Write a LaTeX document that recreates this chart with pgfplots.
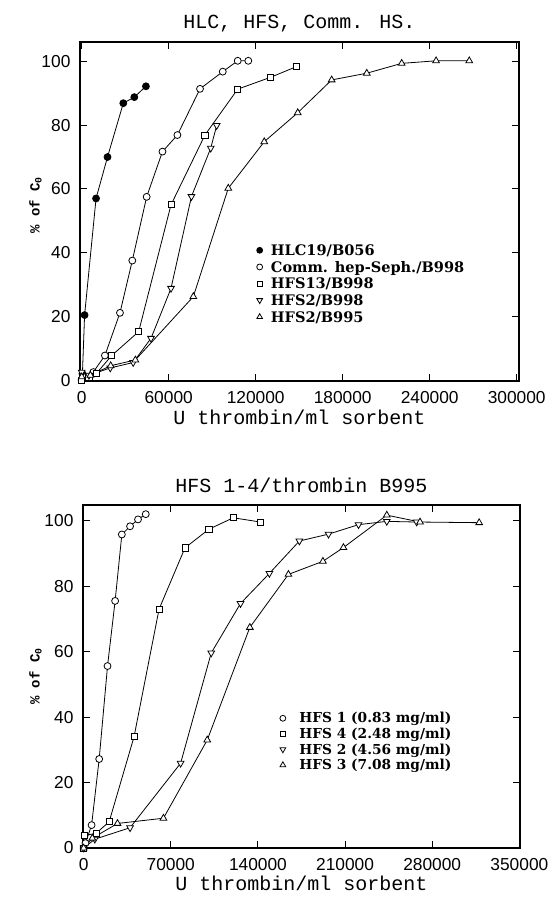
\documentclass[border=0pt]{standalone}
\usepackage{pgfplots}
\pgfplotsset{compat=1.18}
\usepackage{fontspec}
\setmainfont{Liberation Serif}
\newfontfamily\monof{Liberation Mono}
\newfontfamily\sansf{Liberation Sans}
\newfontfamily\legf{DejaVu Serif}
\begin{document}
\begin{tikzpicture}
\useasboundingbox (0,0) rectangle (414.75pt,-675.75pt);
\pgfplotsset{
  common/.style={
    scale only axis,
    axis line style={line width=0.8pt},
    every tick/.style={black, line width=0.7pt},
    major tick length=5pt,
    ytick={0,20,40,60,80,100},
    scaled ticks=false,
    /pgf/number format/fixed,
    /pgf/number format/precision=0,
    /pgf/number format/set thousands separator={},
    /pgf/number format/assume math mode=true,
    tick label style={font=\sansf\fontsize{13pt}{15pt}\selectfont},
    xticklabel style={anchor=base, inner sep=0pt, yshift=-16.5pt},
    yticklabel style={anchor=east, inner sep=0pt, xshift=-7pt},
    title style={font=\monof\fontsize{15pt}{17pt}\selectfont, anchor=base, inner sep=0pt, at={(axis description cs:0.5,1)}},
    xlabel style={font=\monof\fontsize{15pt}{17pt}\selectfont, anchor=base, inner sep=0pt, at={(axis description cs:0.5,0)}},
    ylabel={\% of C\textsubscript{0}},
    legend cell align=left,
    legend style={draw=none, fill=none, inner sep=0pt, anchor=north west},
    legend image code/.code={\draw[##1, only marks, every mark/.append style={scale=0.85}] plot coordinates {(0cm,0cm)};},
  },
}
% ---------------- top panel ----------------
\begin{axis}[common,
  at={(60pt,-285.75pt)}, anchor=south west,
  width=329.25pt, height=254.25pt,
  xmin=-1170, xmax=301600, ymin=-0.3, ymax=106.1,
  xtick={0,60000,120000,180000,240000,300000},
  title={HLC, HFS, Comm. HS.},
  title style={yshift=4.5pt},
  xlabel={U thrombin/ml sorbent},
  xlabel style={yshift=-32.5pt},
  ylabel style={font=\monof\bfseries\fontsize{10.5pt}{12pt}\selectfont, at={(axis description cs:-0.1014,0.519)}, anchor=center},
  legend style={at={(axis description cs:0.402,0.410)}, column sep=5.75pt, row sep=0.5pt,
    font=\legf\bfseries\fontsize{10.9pt}{13pt}\selectfont,
    nodes={inner xsep=0.5pt, inner ysep=0.5pt, text height=9.5pt, text depth=1.5pt}},
]
\addplot[black, line width=0.6pt, mark=*, mark size=2.6pt, mark options={solid, fill=black}] coordinates {
(0,0) (500,2) (2000,20.4) (9900,57) (17800,70) (28700,86.9) (36300,88.8) (44300,92.2)};
\addlegendentry{HLC19/B056}
\addplot[black, line width=0.6pt, mark=*, mark size=2.6pt, mark options={solid, fill=white}] coordinates {
(0,0) (3000,1) (8000,2.5) (16000,7.7) (26400,21.1) (34900,37.5) (44800,57.5) (55700,71.7) (66000,76.9) (81600,91.4) (97300,96.8) (107600,100.2) (114900,100.2)};
\addlegendentry{Comm. hep-Seph./B998}
\addplot[black, line width=0.6pt, mark=square*, mark size=2.3pt, mark options={solid, fill=white}] coordinates {
(0,0) (5000,1) (10000,2) (20700,7.7) (39300,15.2) (61600,55) (85000,76.9) (107600,91.3) (130100,95) (148300,98.4)};
\addlegendentry{HFS13/B998}
\addplot[black, line width=0.6pt, mark=triangle*, mark size=2.9pt, mark options={solid, fill=white, rotate=180}] coordinates {
(0,2.5) (5000,1.5) (19700,3.8) (35500,5.5) (47800,13.1) (61600,28.8) (75700,57.6) (89000,72.8) (93100,79.9)};
\addlegendentry{HFS2/B998}
\addplot[black, line width=0.6pt, mark=triangle*, mark size=2.9pt, mark options={solid, fill=white}] coordinates {
(0,1) (6000,1.5) (20000,4.5) (37000,6.3) (77000,26.2) (101100,60.2) (125900,74.8) (149000,83.9) (172400,94.2) (196600,96.3) (220700,99.4) (244400,100.2) (267300,100.2)};
\addlegendentry{HFS2/B995}
\end{axis}
% ---------------- bottom panel ----------------
\begin{axis}[common,
  at={(62.25pt,-636pt)}, anchor=south west,
  width=327.75pt, height=257.25pt,
  xmin=-500, xmax=350500, ymin=0, ymax=104.8,
  xtick={0,70000,140000,210000,280000,350000},
  title={HFS 1-4/thrombin B995},
  title style={yshift=3.75pt},
  xlabel={U thrombin/ml sorbent},
  xlabel style={yshift=-32pt},
  ylabel style={font=\monof\bfseries\fontsize{10.5pt}{12pt}\selectfont, at={(axis description cs:-0.1087,0.5)}, anchor=center},
  legend style={at={(axis description cs:0.45,0.4004)}, column sep=9.75pt, row sep=0.7pt,
    font=\legf\bfseries\fontsize{10.3pt}{12pt}\selectfont,
    nodes={inner xsep=0.5pt, inner ysep=0.5pt, text height=8.5pt, text depth=1.5pt}},
]
\addplot[black, line width=0.6pt, mark=*, mark size=2.6pt, mark options={solid, fill=white}] coordinates {
(0,0) (1500,1.5) (6400,7) (12500,27.2) (19200,55.6) (25300,75.5) (30700,95.8) (37300,98.3) (43700,100.4) (49900,102)};
\addlegendentry{HFS 1 (0.83 mg/ml)}
\addplot[black, line width=0.6pt, mark=square*, mark size=2.3pt, mark options={solid, fill=white}] coordinates {
(0,0) (500,3.8) (10000,4.5) (20500,8) (40500,34) (60600,73) (81400,91.7) (100600,97.4) (120200,100.9) (142000,99.6)};
\addlegendentry{HFS 4 (2.48 mg/ml)}
\addplot[black, line width=0.6pt, mark=triangle*, mark size=2.9pt, mark options={solid, fill=white, rotate=180}] coordinates {
(0,0) (9000,2.7) (37300,6.2) (77900,25.9) (102500,59.6) (126000,74.7) (149200,83.9) (173300,93.8) (196700,95.9) (220800,98.8) (243500,99.8) (267500,99.6)};
\addlegendentry{HFS 2 (4.56 mg/ml)}
\addplot[black, line width=0.6pt, mark=triangle*, mark size=2.9pt, mark options={solid, fill=white}] coordinates {
(0,0) (7000,3) (27200,7.5) (64100,9.1) (99300,33) (133500,67.4) (164500,83.6) (192200,87.6) (208700,91.8) (243500,101.7) (270200,99.6) (317700,99.4)};
\addlegendentry{HFS 3 (7.08 mg/ml)}
\end{axis}
\end{tikzpicture}
\end{document}
